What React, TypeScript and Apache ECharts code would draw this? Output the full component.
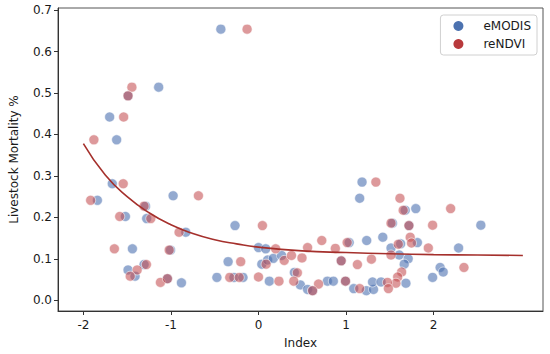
import React, { useEffect, useRef } from "react";
import * as echarts from "echarts";

const emodisPoints: [number, number][] = [
  [-0.43, 0.654], [-1.14, 0.514], [-1.49, 0.493], [-1.70, 0.442], [-1.62, 0.387],
  [-1.67, 0.281], [-1.84, 0.241], [-0.975, 0.252], [-1.29, 0.227], [-1.52, 0.202],
  [-1.277, 0.197], [-0.83, 0.164], [-1.44, 0.124], [-1.005, 0.121], [-1.49, 0.073],
  [-1.307, 0.086], [-1.41, 0.058], [-1.04, 0.052], [-0.88, 0.042], [-0.268, 0.18],
  [0.0, 0.127], [0.083, 0.124], [-0.347, 0.093], [0.038, 0.087], [0.105, 0.097],
  [0.17, 0.101], [0.264, 0.108], [-0.475, 0.055], [-0.28, 0.055], [-0.177, 0.055],
  [0.124, 0.046], [0.41, 0.067], [0.478, 0.037], [1.183, 0.285], [1.156, 0.246],
  [1.676, 0.217], [1.797, 0.221], [1.53, 0.186], [1.72, 0.18], [1.036, 0.139],
  [1.236, 0.144], [1.42, 0.152], [1.624, 0.136], [1.815, 0.139], [1.514, 0.126],
  [0.945, 0.095], [1.608, 0.109], [1.71, 0.1], [1.665, 0.087], [0.787, 0.046],
  [0.855, 0.046], [0.561, 0.026], [0.618, 0.023], [0.994, 0.046], [1.088, 0.028],
  [1.232, 0.023], [1.314, 0.026], [1.303, 0.044], [1.4, 0.044], [1.684, 0.041],
  [2.54, 0.181], [2.286, 0.126], [2.075, 0.079], [2.11, 0.068], [1.989, 0.055],
];

const rendviPoints: [number, number][] = [
  [-0.13, 0.654], [-1.446, 0.514], [-1.49, 0.493], [-1.54, 0.442], [-1.88, 0.387],
  [-1.545, 0.281], [-1.917, 0.241], [-1.307, 0.227], [-1.585, 0.202], [-1.23, 0.197],
  [-0.907, 0.164], [-1.646, 0.124], [-1.02, 0.121], [-1.386, 0.073], [-1.28, 0.086],
  [-1.465, 0.058], [-1.12, 0.043], [-1.04, 0.052], [-0.686, 0.252], [0.045, 0.18],
  [0.196, 0.124], [-0.203, 0.093], [0.087, 0.087], [0.294, 0.096], [0.377, 0.108],
  [0.497, 0.102], [-0.328, 0.055], [-0.22, 0.055], [0.0, 0.056], [0.234, 0.046],
  [0.444, 0.066], [0.403, 0.046], [1.341, 0.285], [1.616, 0.246], [1.653, 0.217],
  [1.514, 0.186], [1.718, 0.18], [0.723, 0.144], [0.561, 0.127], [0.878, 0.125],
  [1.013, 0.139], [1.597, 0.135], [1.733, 0.152], [1.748, 0.138], [0.945, 0.095],
  [1.13, 0.086], [1.29, 0.099], [1.514, 0.109], [1.635, 0.068], [1.59, 0.056],
  [1.57, 0.041], [0.686, 0.039], [0.618, 0.023], [0.994, 0.046], [1.156, 0.028],
  [1.473, 0.043], [1.484, 0.028], [2.195, 0.221], [1.989, 0.181], [1.94, 0.126],
  [2.347, 0.079],
];

const fitCurve: [number, number][] = [
  [-2.0, 0.378], [-1.75, 0.302], [-1.5, 0.25], [-1.25, 0.211], [-1.0, 0.182],
  [-0.75, 0.161], [-0.5, 0.146], [-0.25, 0.136], [0.0, 0.128], [0.5, 0.119],
  [1.0, 0.115], [1.5, 0.112], [2.0, 0.11], [2.5, 0.109], [3.02, 0.108],
];

const xTicks = [-2, -1, 0, 1, 2];
const yTicks = [0, 0.1, 0.2, 0.3, 0.4, 0.5, 0.6, 0.7];

const FONT = "DejaVu Sans";
const TEXT = "#1a1a1a";

export default function App() {
  const ref = useRef<HTMLDivElement>(null);
  useEffect(() => {
    if (!ref.current) return;
    const chart = echarts.init(ref.current, undefined, { renderer: "svg" });
    const axisLineStyle = { color: "#333333", width: 1 };
    chart.setOption({
      animation: false,
      backgroundColor: "#ffffff",
      grid: { left: 52, right: 7, top: 8, bottom: 42, show: true, borderColor: "#555555", borderWidth: 1 },
      legend: {
        right: 13,
        top: 15,
        orient: "vertical",
        itemWidth: 10,
        itemHeight: 10,
        itemGap: 6,
        padding: [5, 6, 5, 13],
        borderColor: "#d0d0d0",
        borderWidth: 1,
        borderRadius: 3,
        backgroundColor: "#ffffff",
        textStyle: { fontFamily: FONT, fontSize: 12, color: TEXT, padding: [0, 0, 0, 15] },
        data: [
          { name: "eMODIS", icon: "circle", itemStyle: { color: "#4C72B0", opacity: 1, borderWidth: 0 } },
          { name: "reNDVI", icon: "circle", itemStyle: { color: "#B8393C", opacity: 1, borderWidth: 0 } },
        ],
      },
      xAxis: {
        type: "value",
        min: -2.29,
        max: 3.25,
        name: "Index",
        nameLocation: "middle",
        nameGap: 26,
        nameTextStyle: { fontFamily: FONT, fontSize: 12, color: TEXT },
        splitLine: { show: false },
        axisLine: { show: true, onZero: false, lineStyle: axisLineStyle },
        axisTick: { show: true, inside: false, length: 4, customValues: xTicks, lineStyle: axisLineStyle },
        axisLabel: { customValues: xTicks, margin: 8, fontFamily: FONT, fontSize: 12, color: TEXT, formatter: (v: number) => String(v) },
      },
      yAxis: {
        type: "value",
        min: -0.026,
        max: 0.705,
        name: "Livestock Mortality %",
        nameLocation: "middle",
        nameGap: 38,
        nameTextStyle: { fontFamily: FONT, fontSize: 12, color: TEXT },
        splitLine: { show: false },
        axisLine: { show: true, onZero: false, lineStyle: axisLineStyle },
        axisTick: { show: true, inside: false, length: 4, customValues: yTicks, lineStyle: axisLineStyle },
        axisLabel: { customValues: yTicks, margin: 6, fontFamily: FONT, fontSize: 12, color: TEXT, formatter: (v: number) => v.toFixed(1) },
      },
      series: [
        {
          name: "eMODIS",
          type: "scatter",
          data: emodisPoints,
          symbolSize: 10,
          itemStyle: { color: "rgba(76,114,176,0.75)", borderColor: "#ffffff", borderWidth: 0.7 },
          z: 2,
        },
        {
          name: "reNDVI",
          type: "scatter",
          data: rendviPoints,
          symbolSize: 10,
          itemStyle: { color: "rgba(196,78,82,0.72)", borderColor: "#ffffff", borderWidth: 0.7 },
          z: 3,
        },
        {
          name: "fit",
          type: "line",
          data: fitCurve,
          smooth: true,
          showSymbol: false,
          symbol: "none",
          lineStyle: { color: "#A5302C", width: 1.6 },
          z: 4,
        },
      ],
    });
    return () => chart.dispose();
  }, []);
  return <div ref={ref} style={{ position: "fixed", left: 0, top: 0, width: 550, height: 354 }} />;
}
